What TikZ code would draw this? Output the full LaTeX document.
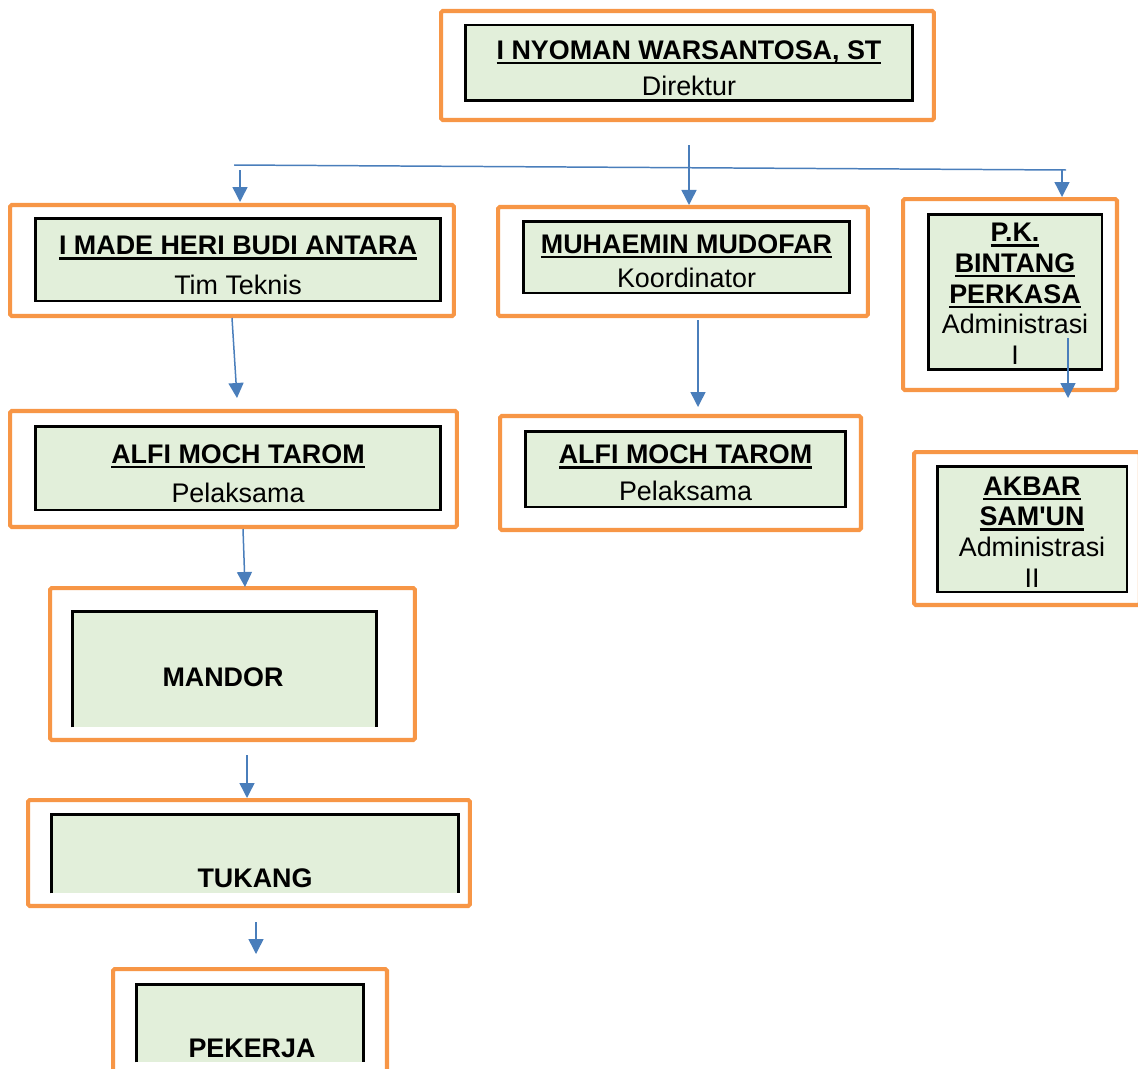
\documentclass[tikz,border=0pt]{standalone}
\usepackage{fontspec}
\setmainfont{Liberation Sans}
\usepackage{xcolor}
\usetikzlibrary{arrows.meta}

\definecolor{boxorange}{HTML}{F79646}
\definecolor{boxgreen}{HTML}{E2EFDA}
\definecolor{linkblue}{HTML}{4A7EBB}
\newcommand{\nama}[1]{\setbox0\hbox{\textbf{#1}}\rlap{\rule[-2.7pt]{\wd0}{1.3pt}}\box0}

\begin{document}
\begin{tikzpicture}[x=0.02cm,y=-0.02cm,
  outerbox/.style={draw=boxorange,line width=2.3pt,fill=white,rounded corners=1pt,inner sep=0pt},
  innerbox/.style={draw=black,line width=1.7pt,fill=boxgreen,inner sep=0pt},
  openbox/.style={fill=boxgreen,inner sep=0pt},
  boxtext/.style={inner sep=0pt,align=center,font=\fontsize{15.3}{17.5}\selectfont},
  link/.style={draw=linkblue,line width=0.85pt,-{Triangle[length=0.3cm,width=0.3cm]}}]
  \useasboundingbox (0,0) rectangle (1138,1068);

  % Direktur
  \node[outerbox,minimum width=9.86cm,minimum height=2.18cm] (dirOut) at (687.5,65.5) {};
  \node[innerbox,minimum width=8.96cm,minimum height=1.52cm] (dirIn) at (689,63) {};
  \node[boxtext] (dirTxt) at (689,68) {\nama{I NYOMAN WARSANTOSA, ST}\\[3pt]Direktur};

  % Tim Teknis
  \node[outerbox,minimum width=8.88cm,minimum height=2.22cm] (ttOut) at (232,260.5) {};
  \node[innerbox,minimum width=8.12cm,minimum height=1.66cm] (ttIn) at (238,259.5) {};
  \node[boxtext] (ttTxt) at (238,265.5) {\nama{I MADE HERI BUDI ANTARA}\\[5pt]Tim Teknis};

  % Koordinator
  \node[outerbox,minimum width=7.40cm,minimum height=2.18cm] (koordOut) at (683,261.5) {};
  \node[innerbox,minimum width=6.54cm,minimum height=1.44cm] (koordIn) at (686.5,257) {};
  \node[boxtext] (koordTxt) at (686.5,261) {\nama{MUHAEMIN MUDOFAR}\\[2pt]Koordinator};

  % Administrasi I
  \node[outerbox,minimum width=4.28cm,minimum height=3.82cm] (pkOut) at (1010,294.5) {};
  \node[innerbox,minimum width=3.48cm,minimum height=3.12cm] (pkIn) at (1015,292) {};
  \node[boxtext] (pkTxt) at (1015,294)
    {\nama{P.K.}\\\nama{BINTANG}\\\nama{PERKASA}\\Administrasi\\I};

  % Administrasi II
  \node[outerbox,minimum width=4.52cm,minimum height=3.06cm] (akbarOut) at (1027,528.5) {};
  \node[innerbox,minimum width=3.80cm,minimum height=2.52cm] (akbarIn) at (1032,529) {};
  \node[boxtext] (akbarTxt) at (1032,532)
    {\nama{AKBAR}\\\nama{SAM\textquotesingle UN}\\Administrasi\\II};

  % Pelaksama (kiri)
  \node[outerbox,minimum width=8.94cm,minimum height=2.32cm] (pelLOut) at (233.5,469) {};
  \node[innerbox,minimum width=8.12cm,minimum height=1.68cm] (pelLIn) at (238,468) {};
  \node[boxtext] (pelLTxt) at (238,473.5) {\nama{ALFI MOCH TAROM}\\[4.5pt]Pelaksama};

  % Pelaksama (kanan)
  \node[outerbox,minimum width=7.22cm,minimum height=2.28cm] (pelROut) at (680.5,473) {};
  \node[innerbox,minimum width=6.42cm,minimum height=1.52cm] (pelRIn) at (685.5,469) {};
  \node[boxtext] (pelRTxt) at (685.5,473) {\nama{ALFI MOCH TAROM}\\[3.5pt]Pelaksama};

  % Mandor
  \node[outerbox,minimum width=7.30cm,minimum height=3.04cm] (mandorOut) at (232.5,664) {};
  \node[openbox,minimum width=6.06cm,minimum height=2.30cm] (mandorIn) at (224.5,669.5) {};
  \draw[line width=1.7pt] (mandorIn.south west) -- (mandorIn.north west)
    -- (mandorIn.north east) -- (mandorIn.south east);
  \node[boxtext,font=\fontsize{15.3}{17.5}\selectfont\bfseries] (mandorTxt) at (223,677) {MANDOR};

  % Tukang
  \node[outerbox,minimum width=8.84cm,minimum height=2.12cm] (tukangOut) at (249,853) {};
  \node[openbox,minimum width=8.12cm,minimum height=1.56cm] (tukangIn) at (255,854) {};
  \draw[line width=1.7pt] (tukangIn.south west) -- (tukangIn.north west)
    -- (tukangIn.north east) -- (tukangIn.south east);
  \node[boxtext,font=\fontsize{15.3}{17.5}\selectfont\bfseries] (tukangTxt) at (255,878) {TUKANG};

  % Pekerja
  \node[outerbox,minimum width=5.48cm,minimum height=2.22cm] (pekerjaOut) at (250,1024.5) {};
  \node[openbox,minimum width=4.52cm,minimum height=1.54cm] (pekerjaIn) at (250,1023.5) {};
  \draw[line width=1.7pt] (pekerjaIn.south west) -- (pekerjaIn.north west)
    -- (pekerjaIn.north east) -- (pekerjaIn.south east);
  \node[boxtext,font=\fontsize{15.3}{17.5}\selectfont\bfseries] (pekerjaTxt) at (252,1048) {PEKERJA};

  % Arrows
  \coordinate (busL) at (234,165);
  \coordinate (busR) at (1066,170);
  \coordinate (dirDrop) at (689,145);
  \coordinate (ttDrop) at (240,170);
  \coordinate (ttTip) at (240,202);
  \coordinate (pkDrop) at (1062,170);
  \coordinate (pkTip) at (1062,197);
  \coordinate (pelLTip) at (237,398);
  \coordinate (koordDrop) at (698,320);
  \coordinate (pelRTip) at (698,407);
  \coordinate (pkOutDrop) at (1068,338);
  \coordinate (akbarTip) at (1068,398);
  \coordinate (pelLDrop) at (243,529);
  \coordinate (mandorTip) at (245,587);
  \coordinate (mandorDrop) at (247,755);
  \coordinate (tukangDrop) at (256,922);
  \coordinate (pekerjaTip) at (256,954);

  \draw[draw=linkblue,line width=0.85pt] (busL) -- (busR);
  \draw[link] (dirDrop) -- (dirDrop |- koordOut.north);
  \draw[link] (ttDrop) -- (ttTip);
  \draw[link] (pkDrop) -- (pkTip);
  \draw[link] (ttOut.south) -- (pelLTip);
  \draw[link] (koordDrop) -- (pelRTip);
  \draw[link] (pkOutDrop) -- (akbarTip);
  \draw[link] (pelLDrop) -- (mandorTip);
  \draw[link] (mandorDrop) -- (mandorDrop |- tukangOut.north);
  \draw[link] (tukangDrop) -- (pekerjaTip);

\end{tikzpicture}
\end{document}
